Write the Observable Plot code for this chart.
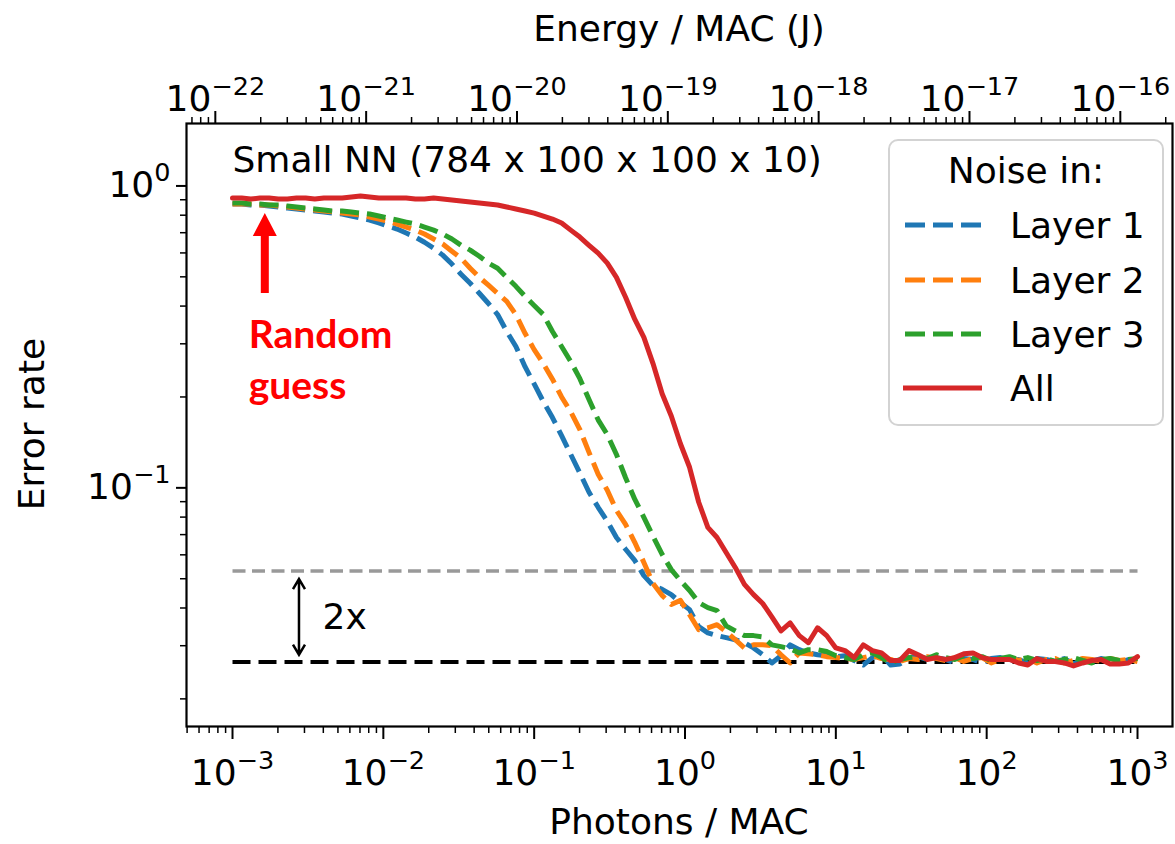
<!DOCTYPE html>
<html><head><meta charset="utf-8">
<script src="https://cdn.jsdelivr.net/npm/d3@7"></script>
<script src="https://cdn.jsdelivr.net/npm/@observablehq/plot@0.6"></script>
<style>
html,body{margin:0;padding:0;background:#fff;}
#chart{width:1175px;height:844px;position:relative;}
</style></head><body><div id="chart"></div>
<script>
// ---------------- data ----------------
const photons = [
 1.000e-3,1.150e-3,1.322e-3,1.520e-3,1.748e-3,2.009e-3,2.310e-3,2.656e-3,3.054e-3,3.511e-3,4.037e-3,4.642e-3,5.337e-3,6.136e-3,7.055e-3,8.111e-3,9.326e-3,
 1.072e-2,1.233e-2,1.417e-2,1.630e-2,1.874e-2,2.154e-2,2.477e-2,2.848e-2,3.275e-2,3.765e-2,4.329e-2,4.977e-2,5.722e-2,6.579e-2,7.565e-2,8.697e-2,
 1.000e-1,1.150e-1,1.322e-1,1.520e-1,1.748e-1,2.009e-1,2.310e-1,2.656e-1,3.054e-1,3.511e-1,4.037e-1,4.642e-1,5.337e-1,6.136e-1,7.055e-1,8.111e-1,9.326e-1,
 1.072,1.233,1.417,1.630,1.874,2.154,2.477,2.848,3.275,3.765,4.329,4.977,5.722,6.579,7.565,8.697,
 10.00,11.50,13.22,15.20,17.48,20.09,23.10,26.56,30.54,35.11,40.37,46.42,53.37,61.36,70.55,81.11,93.26,
 107.2,123.3,141.7,163.0,187.4,215.4,247.7,284.8,327.5,376.5,432.9,497.7,572.2,657.9,756.5,869.7,
 1000
];
const layer1 = [
 0.871,0.871,0.865,0.865,0.858,0.852,0.845,0.839,0.832,0.826,0.820,0.813,0.807,0.795,0.783,0.771,0.754,0.736,0.720,0.698,
 0.677,0.651,0.622,0.590,0.551,0.510,0.476,0.441,0.408,0.375,0.3295,0.294,0.252,0.221,0.193,0.171,0.149,0.129,0.112,0.0967,
 0.0862,0.0775,0.0685,0.0626,0.0575,0.0512,0.0475,0.0461,0.0443,0.0417,0.0395,0.0347,0.0331,0.0324,0.0319,0.0314,0.0307,0.0295,0.0280,0.0263,
 0.0278,0.0302,0.0291,0.0284,0.0280,0.0278,0.0276,0.0278,0.0268,0.0259,0.0274,0.0280,0.0259,0.0261,0.0274,0.0276,0.0270,0.0274,0.0270,0.0263,
 0.0272,0.0270,0.0263,0.0272,0.0274,0.0268,0.0270,0.0263,0.0272,0.0270,0.0266,0.0272,0.0261,0.0270,0.0266,0.0272,0.0268,0.0263,0.0270,0.0268
];
const layer2 = [
 0.871,0.871,0.871,0.865,0.865,0.858,0.852,0.845,0.839,0.832,0.826,0.820,0.813,0.807,0.801,0.789,0.777,0.765,0.748,0.731,
 0.714,0.693,0.667,0.642,0.608,0.576,0.534,0.498,0.469,0.441,0.4146,0.375,0.325,0.287,0.258,0.229,0.200,0.1785,0.156,0.131,
 0.111,0.0982,0.0842,0.0757,0.0660,0.0566,0.0482,0.0440,0.0411,0.0424,0.0380,0.0339,0.0344,0.0352,0.0334,0.0314,0.0295,0.0302,0.0302,0.0300,
 0.0280,0.0263,0.0284,0.0282,0.0280,0.0276,0.0274,0.0272,0.0270,0.0274,0.0278,0.0272,0.0270,0.0266,0.0272,0.0270,0.0276,0.0272,0.0268,0.0274,
 0.0266,0.0272,0.0274,0.0263,0.0270,0.0274,0.0268,0.0272,0.0263,0.0270,0.0272,0.0263,0.0268,0.0272,0.0270,0.0266,0.0272,0.0268,0.0270,0.0266
];
const layer3 = [
 0.878,0.878,0.871,0.871,0.865,0.865,0.858,0.852,0.845,0.839,0.832,0.826,0.826,0.820,0.813,0.807,0.795,0.783,0.771,0.759,
 0.748,0.731,0.714,0.693,0.667,0.636,0.613,0.585,0.555,0.534,0.498,0.465,0.431,0.402,0.375,0.3295,0.294,0.262,0.230,0.196,
 0.168,0.150,0.129,0.108,0.0917,0.0799,0.0691,0.0602,0.0536,0.0493,0.0457,0.0417,0.0401,0.0392,0.0349,0.0336,0.0324,0.0324,0.0321,0.0302,
 0.0298,0.0293,0.0284,0.0291,0.0291,0.0287,0.0278,0.0274,0.0270,0.0280,0.0284,0.0274,0.0263,0.0270,0.0274,0.0276,0.0272,0.0280,0.0274,0.0270,
 0.0278,0.0272,0.0276,0.0268,0.0272,0.0276,0.0270,0.0274,0.0268,0.0272,0.0266,0.0270,0.0274,0.0268,0.0263,0.0270,0.0272,0.0268,0.0270,0.0272
];
const allLayers = [
 0.912,0.912,0.905,0.912,0.912,0.905,0.905,0.912,0.912,0.905,0.912,0.912,0.912,0.919,0.926,0.919,0.912,0.912,0.912,0.912,
 0.905,0.905,0.912,0.905,0.898,0.892,0.885,0.878,0.871,0.865,0.852,0.839,0.826,0.813,0.795,0.777,0.754,0.714,0.677,0.636,
 0.599,0.555,0.498,0.428,0.362,0.315,0.258,0.205,0.173,0.140,0.117,0.0896,0.0740,0.0685,0.0611,0.0545,0.0479,0.0443,0.0414,0.0374,
 0.0336,0.0357,0.0324,0.0307,0.0344,0.0324,0.0295,0.0289,0.0274,0.0302,0.0289,0.0284,0.0268,0.0268,0.0289,0.0280,0.0270,0.0274,0.0270,0.0274,
 0.0282,0.0284,0.0274,0.0270,0.0270,0.0270,0.0263,0.0259,0.0272,0.0266,0.0266,0.0263,0.0257,0.0263,0.0268,0.0270,0.0261,0.0261,0.0263,0.0276
];
const seriesNames = ["Layer 1", "Layer 2", "Layer 3", "All"];
const seriesColors = ["#1f77b4", "#ff7f0e", "#2ca02c", "#d62728"];
const seriesDashed = [true, true, true, false];
const baselineError = 0.0265;      // black dashed line
const doubledError = 0.053;        // grey dashed line (2x)
const photonEnergyJ = 1.3e-19;     // J per photon, links top and bottom axes
const xTickExps = [-3, -2, -1, 0, 1, 2, 3];
const energyTickExps = [-23, -22, -21, -20, -19, -18, -17, -16];
const yTickExps = [-2, -1, 0];
const panelTitle = "Small NN (784 x 100 x 100 x 10)";
const legendTitle = "Noise in:";
// annotation anchors (data coordinates)
const guessArrowPhotons = 1.65e-3, guessArrowTip = 0.81, guessArrowTail = 0.44;
const guessTextPhotons = 1.28e-3;
const twoXPhotons = 2.78e-3, twoXTop = 0.0497, twoXBottom = 0.0279, twoXTextPhotons = 3.95e-3;

// ---------------- build ----------------
const seriesValues = [layer1, layer2, layer3, allLayers];
const rows = [];
seriesNames.forEach((s, i) => photons.forEach((p, k) => rows.push({series: s, photons: p, error: seriesValues[i][k]})));

const xDomain = [10 ** -3.305, 10 ** 3.232];
const yDomain = [0.0162, 1.61];
const inRange = (v, d) => v >= d[0] * 0.9999 && v <= d[1] * 1.0001;

const xMajor = xTickExps.map(e => 10 ** e);
const xMinor = [];
for (let e = -4; e <= 3; e++) for (let m = 2; m <= 9; m++) { const v = m * 10 ** e; if (inRange(v, xDomain)) xMinor.push(v); }
const eDomain = xDomain.map(v => v * photonEnergyJ);
const eMajor = energyTickExps.map(e => 10 ** e).filter(v => inRange(v, eDomain));
const eMinor = [];
for (let e = -24; e <= -16; e++) for (let m = 2; m <= 9; m++) { const v = m * 10 ** e; if (inRange(v, eDomain)) eMinor.push(v); }
const yMajor = yTickExps.map(e => 10 ** e).filter(v => inRange(v, yDomain));
const yMinor = [];
for (let e = -2; e <= 0; e++) for (let m = 2; m <= 9; m++) { const v = m * 10 ** e; if (inRange(v, yDomain)) yMinor.push(v); }

const powLabel = v => "10^" + String(Math.round(Math.log10(v))).replace("-", "\u2212");

const lineMarks = seriesNames.map((s, i) => Plot.line(rows.filter(r => r.series === s), {
  x: "photons", y: "error", stroke: seriesColors[i], strokeWidth: 5,
  strokeDasharray: seriesDashed[i] ? "19,8" : null,
  strokeLinecap: seriesDashed[i] ? "butt" : "round", strokeLinejoin: "round"
}));

const refLine = (v) => [{photons: photons[0], error: v}, {photons: photons[photons.length - 1], error: v}];
const energyTicks = eMajor.map(v => ({photons: v / photonEnergyJ, label: powLabel(v)}));

const chart = Plot.plot({
  width: 1175, height: 844,
  marginLeft: 186, marginRight: 3, marginTop: 123, marginBottom: 118,
  style: {fontFamily: "'DejaVu Sans', sans-serif", fontSize: "36px", color: "black", background: "white", overflow: "visible"},
  x: {type: "log", domain: xDomain},
  y: {type: "log", domain: yDomain},
  marks: [
    Plot.line(refLine(doubledError), {x: "photons", y: "error", stroke: "#999999", strokeWidth: 3.5, strokeDasharray: "13,6.5", strokeLinecap: "butt"}),
    Plot.line(refLine(baselineError), {x: "photons", y: "error", stroke: "black", strokeWidth: 4, strokeDasharray: "18,8", strokeLinecap: "butt"}),
    ...lineMarks,
    Plot.text(["2x"], {x: twoXTextPhotons, y: Math.sqrt(twoXTop * twoXBottom), text: d => d, textAnchor: "start", lineAnchor: "middle", fontSize: 36}),
    // panel title
    Plot.text([panelTitle], {x: photons[0], y: 1.21, text: d => d, textAnchor: "start", lineAnchor: "middle", fontSize: 36}),
    // random guess label
    Plot.text(["Random"], {x: guessTextPhotons, y: 0.32, text: d => d, textAnchor: "start", lineAnchor: "middle", fontSize: 39, fontWeight: "bold", fill: "#ff0000", fontFamily: "Lato, 'Open Sans', sans-serif"}),
    Plot.text(["guess"], {x: guessTextPhotons, y: 0.217, text: d => d, textAnchor: "start", lineAnchor: "middle", fontSize: 39, fontWeight: "bold", fill: "#ff0000", fontFamily: "Lato, 'Open Sans', sans-serif"}),
    // axes
    Plot.axisX({ticks: xMajor, anchor: "bottom", tickSize: 13, tickPadding: 20, strokeWidth: 2, tickFormat: powLabel, label: null, fontSize: 36}),
    Plot.axisX({ticks: xMinor, anchor: "bottom", tickSize: 7, strokeWidth: 1.5, tickFormat: () => "", label: null}),
    Plot.axisX({ticks: eMajor.map(v => v / photonEnergyJ), anchor: "top", tickSize: 13, strokeWidth: 2, tickFormat: () => "", label: null}),
    Plot.axisX({ticks: eMinor.map(v => v / photonEnergyJ), anchor: "top", tickSize: 7, strokeWidth: 1.5, tickFormat: () => "", label: null}),
    Plot.text(energyTicks, {x: "photons", frameAnchor: "top", dy: -38, text: "label", textAnchor: "middle", fontSize: 36}),
    Plot.axisY({ticks: yMajor, anchor: "left", tickSize: 10, tickPadding: 6, strokeWidth: 2, tickFormat: powLabel, label: null, fontSize: 36}),
    Plot.axisY({ticks: yMinor, anchor: "left", tickSize: 6, strokeWidth: 1.5, tickFormat: () => "", label: null}),
    Plot.frame({stroke: "black", strokeWidth: 2.2})
  ]
});
document.getElementById("chart").appendChild(chart);

const svg = d3.select(chart);
// superscript tick labels
svg.selectAll("text").each(function () {
  const t = this.textContent;
  const m = /^10\^(.+)$/.exec(t);
  if (!m) return;
  const el = d3.select(this);
  el.text(null);
  el.append("tspan").text("10");
  el.append("tspan").attr("dy", -16).attr("font-size", 25.5).text(m[1]);
});

const xs = chart.scale("x").apply, ys = chart.scale("y").apply;
// red arrow (filled head)
{
  const x = xs(guessArrowPhotons), yt = ys(guessArrowTip), yb = ys(guessArrowTail);
  const headLen = 23, headHalf = 12, shaftHalf = 4;
  svg.append("path")
    .attr("d", `M${x},${yt} L${x + headHalf},${yt + headLen} L${x + shaftHalf},${yt + headLen} L${x + shaftHalf},${yb} L${x - shaftHalf},${yb} L${x - shaftHalf},${yt + headLen} L${x - headHalf},${yt + headLen} Z`)
    .attr("fill", "#ff0000");
}
// 2x double arrow
{
  const x = xs(twoXPhotons), yt = ys(twoXTop), yb = ys(twoXBottom);
  const hl = 10, hw = 6;
  svg.append("path")
    .attr("d", `M${x},${yt} L${x},${yb} M${x - hw},${yt + hl} L${x},${yt} L${x + hw},${yt + hl} M${x - hw},${yb - hl} L${x},${yb} L${x + hw},${yb - hl}`)
    .attr("fill", "none").attr("stroke", "black").attr("stroke-width", 2.5).attr("stroke-linejoin", "miter");
}
// axis titles
const fam = "'DejaVu Sans', sans-serif";
svg.append("text").attr("x", 679).attr("y", 41).attr("text-anchor", "middle").attr("font-family", fam).attr("font-size", 36).attr("fill", "black").text("Energy / MAC (J)");
svg.append("text").attr("x", 679).attr("y", 834).attr("text-anchor", "middle").attr("font-family", fam).attr("font-size", 36).attr("fill", "black").text("Photons / MAC");
svg.append("text").attr("transform", "translate(44,424) rotate(-90)").attr("text-anchor", "middle").attr("font-family", fam).attr("font-size", 36).attr("fill", "black").text("Error rate");

// legend
const lg = svg.append("g").attr("font-family", fam).attr("font-size", 36);
lg.append("rect").attr("x", 889).attr("y", 140).attr("width", 274).attr("height", 285).attr("rx", 9)
  .attr("fill", "white").attr("fill-opacity", 0.85).attr("stroke", "#d3d3d3").attr("stroke-width", 2);
lg.append("text").attr("x", 1026).attr("y", 183).attr("text-anchor", "middle").attr("fill", "black").text(legendTitle);
const legendY = [225, 280, 334, 388];
seriesNames.forEach((s, i) => {
  const y = legendY[i];
  lg.append("line").attr("x1", seriesDashed[i] ? 905 : 903).attr("x2", seriesDashed[i] ? 981 : 982).attr("y1", y).attr("y2", y)
    .attr("stroke", seriesColors[i]).attr("stroke-width", 5)
    .attr("stroke-dasharray", seriesDashed[i] ? "20,8" : null);
  lg.append("text").attr("x", 1010).attr("y", y + 13).attr("text-anchor", "start").attr("fill", "black").text(s);
});
</script></body></html>
